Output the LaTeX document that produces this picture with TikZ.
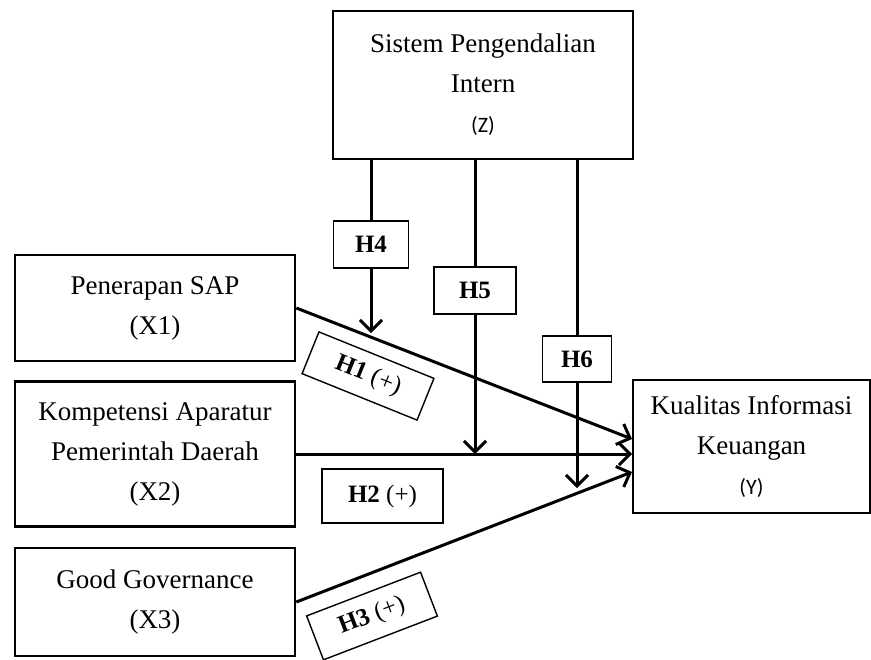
\documentclass[tikz,border=0pt]{standalone}
\usepackage{fontspec}
\setmainfont{Liberation Serif}
\newfontfamily\calibri{Carlito}
\usetikzlibrary{arrows.meta}
\tikzset{
    varbox/.style={draw, line width=1.3pt, inner sep=0pt, align=center,
        font=\fontsize{13.5}{20}\selectfont},
    hypbox/.style={draw, line width=0.7pt, inner sep=0pt,
        font=\fontsize{12.5}{15}\selectfont},
    path/.style={line width=1.5pt},
    tip/.style={path, -{Straight Barb[length=5.5pt,width=11pt]}}
}
\newcommand{\lbl}[1]{{\calibri\fontsize{11}{20}\selectfont #1}}
\begin{document}
\begin{tikzpicture}[x=0.5pt, y=-0.5pt]
    \useasboundingbox (0,0) rectangle (871,659);
    % variables
    \node[varbox, minimum width=150pt, minimum height=74pt] (Z) at (483,85)
        {Sistem Pengendalian\\Intern\\\lbl{(Z)}};
    \node[varbox, minimum width=140pt, minimum height=53pt] (X1) at (155,308)
        {Penerapan SAP\\(X1)};
    \node[varbox, minimum width=140pt, minimum height=72.5pt] (X2) at (155,454)
        {Kompetensi Aparatur\\Pemerintah Daerah\\(X2)};
    \node[varbox, minimum width=140pt, minimum height=54pt] (X3) at (155,602)
        {Good Governance\\(X3)};
    \node[varbox, minimum width=118.5pt, minimum height=66.5pt] (Y) at (751.5,446.5)
        {Kualitas Informasi\\Keuangan\\\lbl{(Y)}};
    % hypotheses
    \node[hypbox, minimum width=37.5pt, minimum height=23.5pt] (H4) at (371,244.5) {\textbf{H4}};
    \node[hypbox, minimum width=41pt, minimum height=23.5pt] (H5) at (475,290.5) {\textbf{H5}};
    \node[hypbox, minimum width=34.5pt, minimum height=23pt] (H6) at (577,359) {\textbf{H6}};
    \node[hypbox, minimum width=60.5pt, minimum height=27pt] (H2) at (382.5,496) {\textbf{H2} (+)};
    \node[hypbox, minimum width=62pt, minimum height=22.5pt, rotate=-22] (H1) at (368,376) {\textbf{H1} (+)};
    \node[hypbox, minimum width=61pt, minimum height=23.5pt, rotate=21] (H3) at (372,616) {\textbf{H3} (+)};
    \coordinate (y1) at (632,439);
    \coordinate (y2) at (632,454);
    \coordinate (y3) at (632,472);
    \coordinate (t4) at (371,333);
    \coordinate (t5) at (475,454);
    \coordinate (t6) at (577,488);
    % direct effects
    \draw[tip] (X1.east) -- (y1);
    \draw[tip] (X2.east) -- (y2);
    \draw[tip] (X3.east) -- (y3);
    % moderation
    \draw[path] (Z.south -| H4) -- (H4.north);
    \draw[tip] (H4.south) -- (t4);
    \draw[path] (Z.south -| H5) -- (H5.north);
    \draw[tip] (H5.south) -- (t5);
    \draw[path] (Z.south -| H6) -- (H6.north);
    \draw[tip] (H6.south) -- (t6);
\end{tikzpicture}
\end{document}
